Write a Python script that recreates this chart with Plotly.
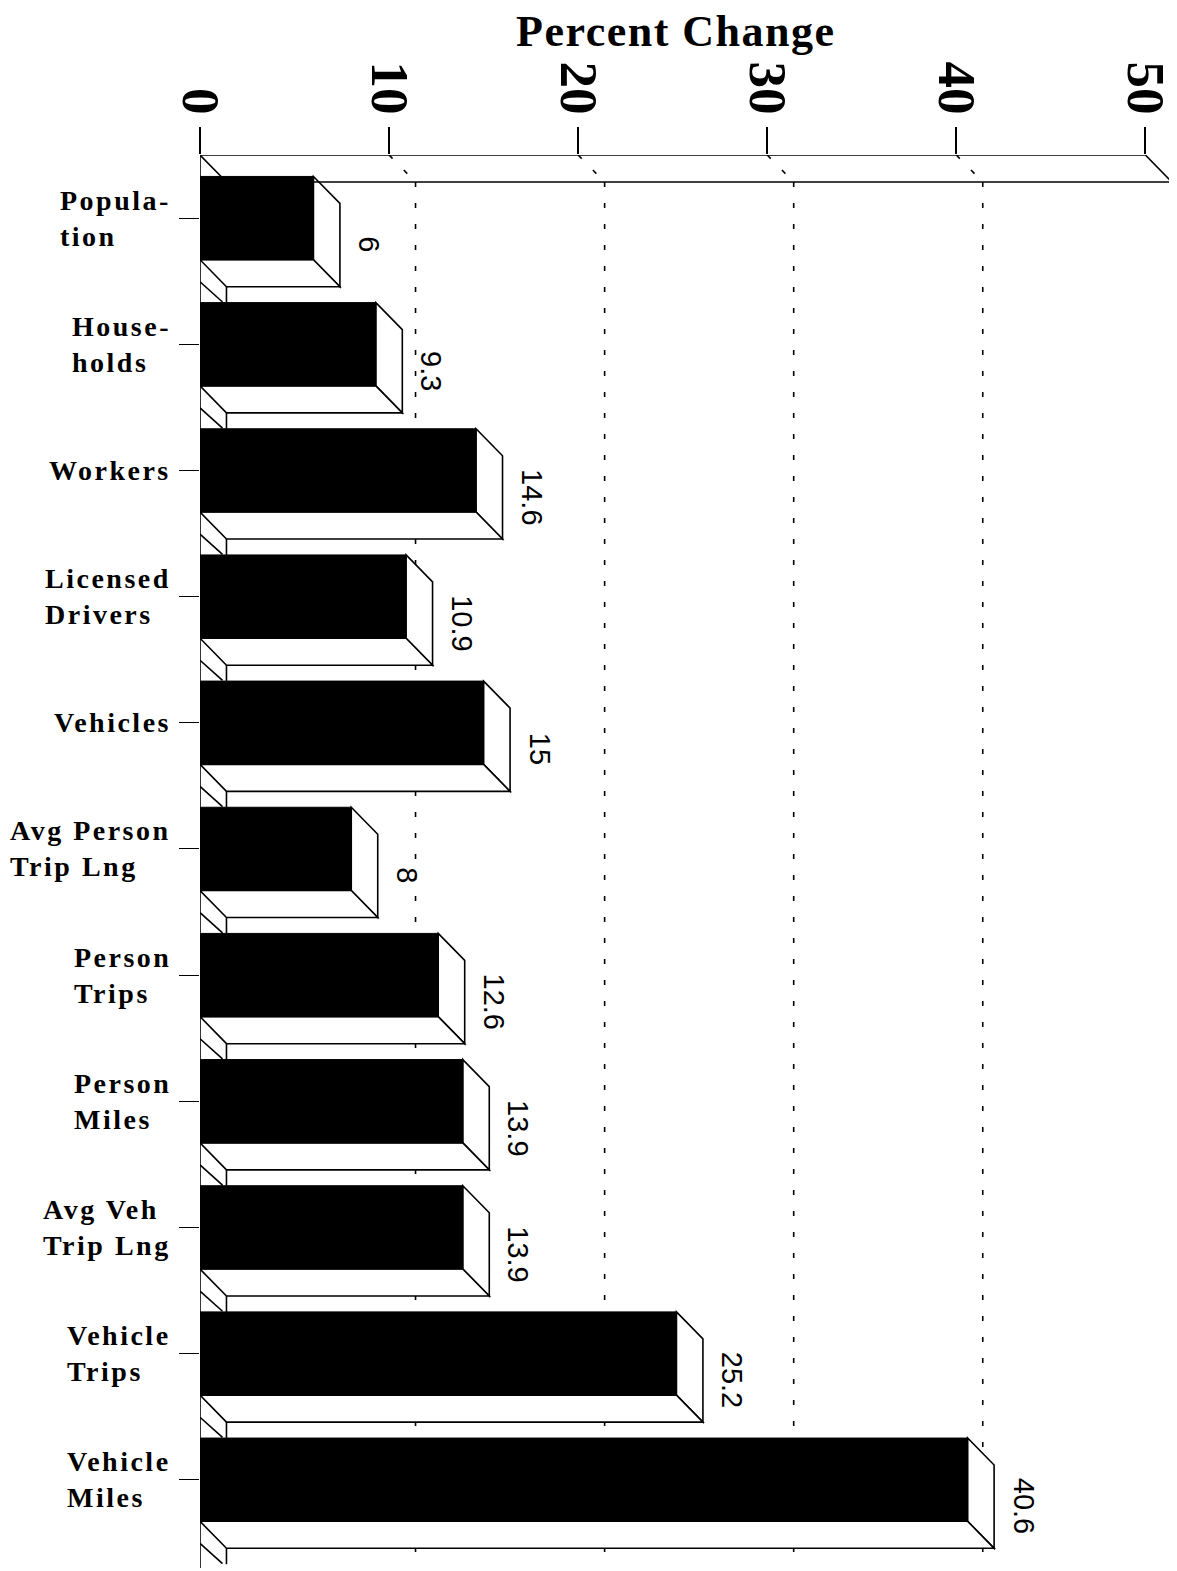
import plotly.graph_objects as go

categories = ["Popula-<br>tion", "House-<br>holds", "Workers", "Licensed<br>Drivers", "Vehicles",
              "Avg Person<br>Trip Lng", "Person<br>Trips", "Person<br>Miles", "Avg Veh<br>Trip Lng",
              "Vehicle<br>Trips", "Vehicle<br>Miles"]
values = [6, 9.3, 14.6, 10.9, 15, 8, 12.6, 13.9, 13.9, 25.2, 40.6]
value_labels = ["6", "9.3", "14.6", "10.9", "15", "8", "12.6", "13.9", "13.9", "25.2", "40.6"]
x_ticks = [0, 10, 20, 30, 40, 50]
x_tick_labels = ["0", "10", "20", "30", "40", "50"]
title_text = "Percent Change"

# styling / geometry (not data)
BW = 0.66          # bar thickness in category units
DX = 1.40          # depth offset in value units
DY = 0.214         # depth offset in category units
TOP = -0.5
BOTTOM = 10.7
XMAX = 51.25

idx = list(range(len(values)))

fig = go.Figure()
fig.add_trace(go.Bar(
    x=values, y=idx, orientation="h", width=BW,
    marker=dict(color="black", line=dict(color="black", width=1)),
    hoverinfo="skip", showlegend=False,
))

shapes = []
line_k = dict(color="black", width=1.6)
grid = dict(color="black", width=1.6, dash="5px,16px")

# gridlines (back wall), dotted
for t in x_ticks[1:-1]:
    shapes.append(dict(type="line", xref="x", yref="y", x0=t + DX, x1=t + DX,
                       y0=TOP + DY, y1=BOTTOM, line=grid, layer="below"))
    shapes.append(dict(type="line", xref="x", yref="y", x0=t, x1=t + DX,
                       y0=TOP, y1=TOP + DY, line=grid, layer="below"))

# 3D faces of bars
for i, v in zip(idx, values):
    top = i - BW / 2
    bot = i + BW / 2
    shapes.append(dict(type="path", xref="x", yref="y",
                       path=f"M {v},{top} L {v+DX},{top+DY} L {v+DX},{bot+DY} L {v},{bot} Z",
                       fillcolor="white", line=line_k, layer="below"))
    shapes.append(dict(type="path", xref="x", yref="y",
                       path=f"M 0,{bot} L {v},{bot} L {v+DX},{bot+DY} L {DX},{bot+DY} Z",
                       fillcolor="white", line=line_k, layer="below"))
    nxt = min(i + 1 - BW / 2, BOTTOM)
    shapes.append(dict(type="line", xref="x", yref="y", x0=0, x1=DX * 0.85,
                       y0=bot + 0.175, y1=min(bot + 0.335, BOTTOM), line=line_k, layer="below"))
    shapes.append(dict(type="line", xref="x", yref="y", x0=DX, x1=DX,
                       y0=bot + DY, y1=nxt, line=line_k, layer="below"))

# top wall and left axis line
shapes += [
    dict(type="line", xref="x", yref="y", x0=0, x1=50, y0=TOP, y1=TOP, line=line_k, layer="below"),
    dict(type="line", xref="x", yref="y", x0=DX, x1=50 + DX, y0=TOP + DY, y1=TOP + DY, line=line_k, layer="below"),
    dict(type="line", xref="x", yref="y", x0=0, x1=DX, y0=TOP, y1=TOP + DY, line=line_k, layer="below"),
    dict(type="line", xref="x", yref="y", x0=50, x1=50 + DX, y0=TOP, y1=TOP + DY, line=line_k, layer="below"),
    dict(type="line", xref="x", yref="y", x0=0, x1=0, y0=TOP, y1=BOTTOM, line=line_k, layer="below"),
]

annotations = []
for i, v, lab in zip(idx, values, value_labels):
    annotations.append(dict(x=v + 2.95, y=i + 0.21, xref="x", yref="y", text=lab,
                            textangle=90, showarrow=False,
                            font=dict(family="Liberation Sans", size=29, color="black")))
for i, c in zip(idx, categories):
    annotations.append(dict(x=0, y=i, xref="paper", yref="y", xanchor="right", yanchor="middle",
                            xshift=-27, align="left", showarrow=False,
                            text=f'<span style="letter-spacing:2.5px">{c}</span>',
                            font=dict(family="Liberation Serif", size=28, color="black", weight="bold")))
annotations.append(dict(x=(679 - 200) / 975, y=1, xref="paper", yref="paper", yanchor="middle",
                        yshift=124, showarrow=False,
                        text=f'<span style="letter-spacing:1.5px">{title_text}</span>',
                        font=dict(family="Liberation Serif", size=44, color="black", weight="bold")))

fig.update_layout(
    width=1169, height=1563,
    margin=dict(l=192, r=2, t=147, b=3),
    paper_bgcolor="white", plot_bgcolor="white",
    shapes=shapes, annotations=annotations,
    xaxis=dict(range=[0, XMAX], side="top", tickvals=x_ticks, ticktext=x_tick_labels,
               ticks="outside", ticklen=27, tickwidth=1.6, tickcolor="black",
               tickangle=90, ticklabeloverflow="allow", ticklabelstandoff=-6,
               tickfont=dict(family="Liberation Serif", size=53, color="black", weight="bold"),
               showgrid=False, zeroline=False, showline=False, fixedrange=True),
    yaxis=dict(range=[BOTTOM, TOP], tickvals=idx, ticks="outside", ticklen=20, tickwidth=1.4,
               tickcolor="black", showticklabels=False, showgrid=False, zeroline=False,
               showline=False, fixedrange=True),
)

fig.write_html("out.html")
